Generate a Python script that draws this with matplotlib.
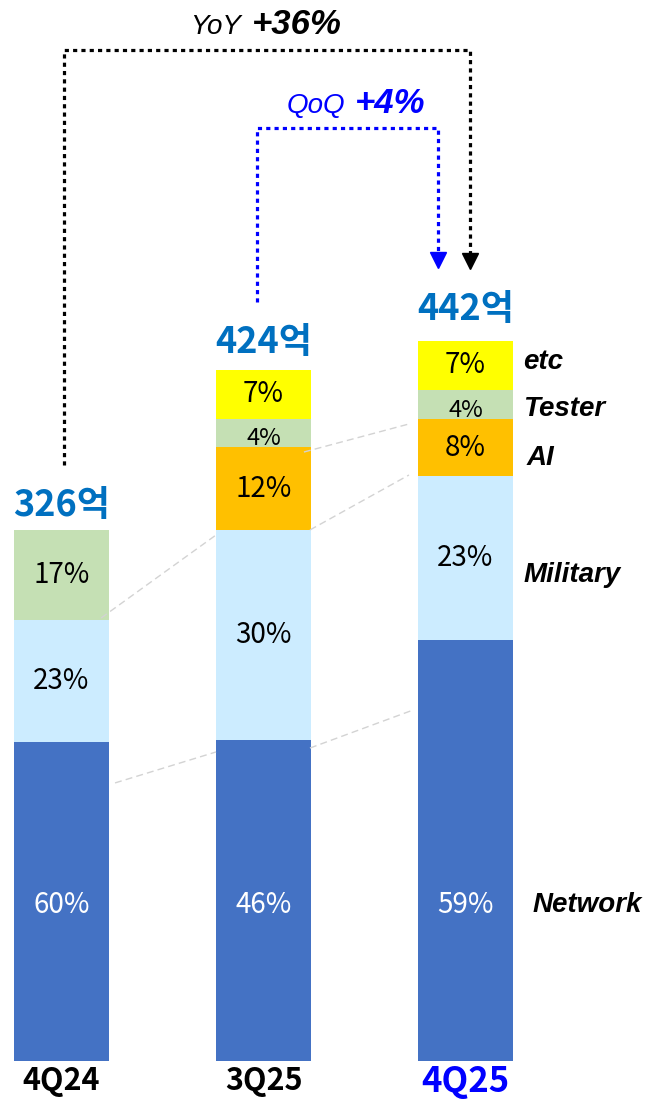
import matplotlib
matplotlib.use('Agg')
import matplotlib.pyplot as plt

# ---------------- data ----------------
quarters = ['4Q24', '3Q25', '4Q25']
totals = [326, 424, 442]            # 억
segments = ['Network', 'Military', 'AI', 'Tester', 'etc']
network_pct = [60, 46, 59]
military_pct = [23, 30, 23]
ai_pct = [0, 12, 8]
tester_pct = [17, 4, 4]
etc_pct = [0, 7, 7]
yoy_text = ('YoY', '+36%')
qoq_text = ('QoQ', '+4%')

# ---------------- style ----------------
colors = {'Network': '#4472C4', 'Military': '#CCECFF', 'AI': '#FFC000',
          'Tester': '#C5E0B4', 'etc': '#FFFF00'}
text_colors = {'Network': 'white', 'Military': 'black', 'AI': 'black',
               'Tester': 'black', 'etc': 'black'}
value_blue = '#0070C0'
pure_blue = '#0000FF'
CJK = ['Noto Sans CJK KR', 'DejaVu Sans']
LAT = ['Liberation Sans', 'DejaVu Sans']

fig = plt.figure(figsize=(6.46, 10.99), dpi=100)
ax = fig.add_axes([0, 0, 1, 1])
ax.set_xlim(-0.3045, 2.8936)
ax.set_ylim(-23.3, 650.9)
ax.axis('off')

pct_table = {'Network': network_pct, 'Military': military_pct, 'AI': ai_pct,
             'Tester': tester_pct, 'etc': etc_pct}
x = list(range(len(quarters)))
width = 0.47
bottoms = [0.0] * len(quarters)
for seg in segments:
    pcts = pct_table[seg]
    vals = []
    for i in x:
        tot_pct = sum(pct_table[s][i] for s in segments)
        vals.append(totals[i] * pcts[i] / tot_pct)
    ax.bar(x, vals, width=width, bottom=bottoms, color=colors[seg],
           edgecolor='none', zorder=2)
    for i in x:
        if pcts[i] == 0:
            continue
        if seg == 'Network':
            ty = 96
        else:
            ty = bottoms[i] + vals[i] / 2
        if seg == 'Tester' and pcts[i] < 5:
            ty -= 3.5
        size = 17 if pcts[i] < 5 else 20
        ax.text(i, ty, f'{pcts[i]}%', ha='center', va='center',
                fontsize=size, color=text_colors[seg], family=CJK, zorder=4)
    bottoms = [b + v for b, v in zip(bottoms, vals)]

# total labels
value_offsets = [15, 17, 19]
for i in x:
    ax.text(i, totals[i] + value_offsets[i], f'{totals[i]}억', ha='center',
            va='center', fontsize=26, fontweight='bold', color=value_blue,
            family=CJK, zorder=4)

# category labels
for i in x:
    last = i == len(quarters) - 1
    ax.text(i, -12.5, quarters[i], ha='center', va='center',
            fontsize=25 if last else 22, fontweight='bold',
            color=pure_blue if last else 'black', family=CJK)

# segment names on the right
name_pos = {'etc': (2.285, 428.8), 'Tester': (2.285, 400.0),
            'AI': (2.30, 370.0), 'Military': (2.285, 298.0),
            'Network': (2.334, 95.7)}
for seg in segments:
    px, py = name_pos[seg]
    ax.text(px, py, seg, ha='left', va='center', fontsize=20,
            fontweight='bold', fontstyle='italic', family=LAT)

# dashed gray connector segments
conn = [((0.265, 0.765), (170.6, 189.6)), ((1.230, 1.740), (192.0, 215.3)),
        ((0.196, 0.765), (271.8, 322.7)), ((1.230, 1.720), (325.8, 359.5)),
        ((1.200, 1.720), (373.6, 390.8))]
for xs, ys in conn:
    ax.plot(xs, ys, color='#D3D3D3', lw=1.0, ls=(0, (5, 3)), zorder=3)

# YoY arrow
dot = (0, (1.3, 1.3))
ax.plot([0.012, 0.012, 2.022, 2.022], [365.6, 620.2, 620.2, 492],
        color='black', lw=2.3, ls=dot, solid_capstyle='butt', zorder=3)
ax.plot(2.022, 491, marker='v', ms=11, color='black', zorder=3)
# QoQ arrow
ax.plot([0.968, 0.968, 1.864, 1.864], [465.6, 572.4, 572.4, 492],
        color=pure_blue, lw=2.3, ls=dot, zorder=3)
ax.plot(1.864, 491.5, marker='v', ms=11, color=pure_blue, zorder=3)

# YoY / QoQ texts
ax.text(0.89, 630, yoy_text[0], ha='right', va='baseline', fontsize=20,
        fontstyle='italic', color='black', family=LAT)
ax.text(0.94, 630, yoy_text[1], ha='left', va='baseline', fontsize=25,
        fontstyle='italic', fontweight='bold', color='black', family=LAT)
ax.text(1.403, 581.6, qoq_text[0], ha='right', va='baseline', fontsize=20,
        fontstyle='italic', color=pure_blue, family=LAT)
ax.text(1.453, 581.6, qoq_text[1], ha='left', va='baseline', fontsize=25,
        fontstyle='italic', fontweight='bold', color=pure_blue, family=LAT)

fig.savefig('out.png', dpi=100)
